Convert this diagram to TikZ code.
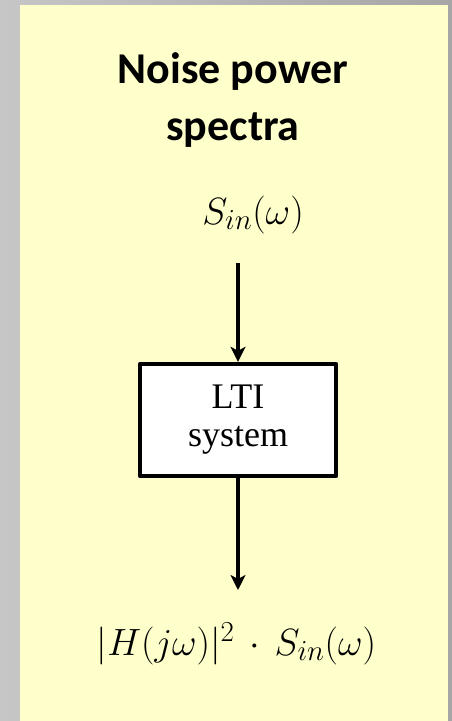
\RequirePackage{fix-cm}
\documentclass[tikz,border=0pt]{standalone}
\usepackage{fontspec}
\setmainfont{Liberation Serif}
\newfontfamily\titlefont{Carlito}
\DeclareMathSizes{38}{38}{29}{22}
\usetikzlibrary{arrows.meta}
\definecolor{panel}{HTML}{FFFFCC}
\definecolor{bgleft}{HTML}{C6C6C6}
\definecolor{bgright}{HTML}{A6A6A6}
\tikzset{
  titletext/.style={anchor=base, inner sep=0pt, font=\titlefont\bfseries\fontsize{44}{53}\selectfont},
  mathtext/.style={anchor=base, inner sep=0pt, font=\fontsize{38}{44}\selectfont},
  sysbox/.style={draw=black, line width=4.4pt, fill=white, line join=round,
    minimum width=196pt, minimum height=112pt, inner sep=0pt, align=center,
    font=\fontsize{36}{38}\selectfont},
  arr/.style={line width=3.3pt, -{Stealth[length=15pt,width=15pt,inset=4pt]}}
}
\begin{document}
\begin{tikzpicture}[x=1pt,y=-1pt]
\useasboundingbox (0,0) rectangle (452,721);
\shade[left color=bgleft, right color=bgright] (0,0) rectangle (452,721);
\fill[panel] (20,5) rectangle (448,721);
\node[titletext] (t1) at (233,83) {Noise power};
\node[titletext] (t2) at (233,140) {spectra};
\node[mathtext] (sin) at (253,224) {$S_{in}(\omega)$};
\node[sysbox] (lti) at (238,420) {LTI\\system};
\node[mathtext] (sout) at (236.5,655) {$|H(j\omega)|^{2}\mkern3mu\cdot\mkern3mu S_{in}(\omega)$};
\coordinate (a1) at (238,263);
\coordinate (a2) at (238,590);
\draw[arr] (a1) -- (lti.north);
\draw[arr] (lti.south) -- (a2);
\end{tikzpicture}
\end{document}
